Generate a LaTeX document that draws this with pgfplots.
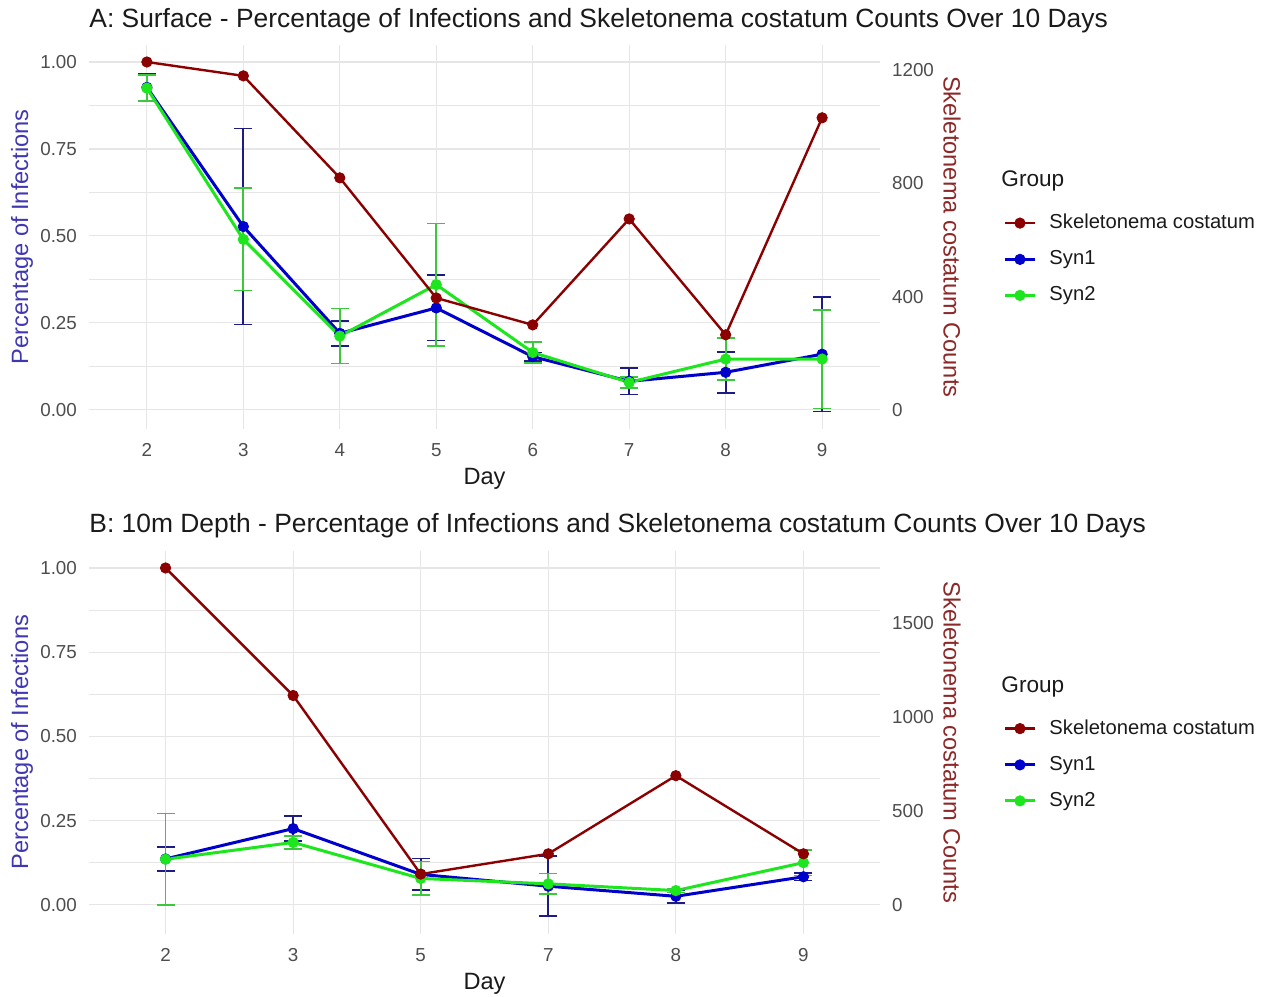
\documentclass[border=0pt]{standalone}
\usepackage{pgfplots}
\usepackage{pgfplotstable}
\pgfplotsset{compat=1.18}
\usepackage{fontspec}
\setmainfont{Liberation Sans}

\definecolor{skel}{HTML}{8B0000}
\definecolor{synA}{HTML}{0000CD}
\definecolor{synAerr}{HTML}{1C1C84}
\definecolor{synB}{HTML}{1EE61E}
\definecolor{synBerr}{HTML}{3CC83C}
\definecolor{leftlab}{HTML}{4038B0}
\definecolor{rightlab}{HTML}{8C2828}
\definecolor{gridc}{HTML}{E6E6E6}
\definecolor{tickc}{HTML}{4D4D4D}
\definecolor{txt}{HTML}{1A1A1A}

% Panel A: Surface
\pgfplotstableread{
day s1    e1    s2    e2    sk
2   0.927 0.040 0.925 0.037 1228
3   0.527 0.282 0.490 0.147 1179
4   0.220 0.036 0.212 0.079 819
5   0.293 0.094 0.360 0.176 395
6   0.153 0.012 0.165 0.030 300
7   0.082 0.038 0.079 0.016 674
8   0.108 0.059 0.146 0.060 265
9   0.160 0.165 0.146 0.142 1031
}\surface

% Panel B: 10 m depth (idx = position of category)
\pgfplotstableread{
idx day s1    e1    s2    e2    sk
0   2   0.136 0.036 0.135 0.136 1793
1   3   0.226 0.037 0.185 0.020 1114
2   5   0.090 0.047 0.078 0.050 163
3   7   0.055 0.089 0.062 0.031 271
4   8   0.025 0.019 0.042 0.006 687
5   9   0.083 0.011 0.125 0.038 271
}\depth

\pgfplotsset{
  base/.style={
    scale only axis, width=395.5pt,
    axis line style={draw=none},
    tick style={draw=none},
    major tick length=0pt, minor tick length=0pt,
    tick label style={font=\fontsize{9.4}{11}\selectfont, text=tickc, inner sep=0pt},
    /pgf/number format/assume math mode=true,
    /pgf/number format/1000 sep={},
    clip=false,
  },
  leftax/.style={
    base,
    ytick={0,0.25,0.5,0.75,1},
    minor ytick={0.125,0.375,0.625,0.875},
    yticklabel style={/pgf/number format/fixed, /pgf/number format/fixed zerofill, /pgf/number format/precision=2, xshift=-5.85pt},
    xticklabel style={yshift=-7pt},
    xmajorgrids, ymajorgrids, yminorgrids,
    major grid style={gridc, line width=0.55pt},
    minor grid style={gridc, line width=0.35pt},
    ylabel={Percentage of Infections},
    ylabel style={at={(axis description cs:-0.0847,0.5)}, anchor=center, text=leftlab, font=\fontsize{11.8}{14}\selectfont, inner sep=0pt},
    xlabel={Day},
    xlabel style={at={(axis description cs:0.5,-0.1444)}, anchor=base, text=txt, font=\fontsize{11.8}{14}\selectfont, inner sep=0pt},
    title style={at={(axis description cs:0,1.044)}, anchor=base west, yshift=-6pt, text=txt, font=\fontsize{13.2}{16}\selectfont, inner sep=0pt},
    legend style={at={(axis description cs:1.148,0.570)}, anchor=north west, draw=none, fill=none,
      font=\fontsize{10.1}{12}\selectfont, text=txt, row sep=9.45pt,
      nodes={inner sep=0pt},
      /tikz/every odd column/.style={column sep=6.5pt}},
    legend cell align=left,
    legend image code/.code={\draw[mark repeat=2,mark phase=2,##1] plot coordinates {(0pt,0pt) (7.5pt,0pt) (15pt,0pt)};},
  },
  rightax/.style={
    base,
    axis y line*=right, axis x line=none,
    yticklabel style={xshift=5.85pt},
    ylabel={Skeletonema costatum Counts},
    ylabel style={at={(axis description cs:1.091,0.5)}, anchor=center, rotate=180, text=rightlab, font=\fontsize{11.8}{14}\selectfont, inner sep=0pt},
  },
  s1style/.style={synA, line width=1.5pt, mark=*, mark size=2.6pt, mark options={solid, fill=synA, draw=synA, line width=0.4pt}},
  s2style/.style={synB, line width=1.5pt, mark=*, mark size=2.6pt, mark options={solid, fill=synB, draw=synB, line width=0.4pt}},
  skstyle/.style={skel, line width=1.2pt, mark=*, mark size=2.6pt, mark options={solid, fill=skel, draw=skel, line width=0.4pt}},
  e1style/.style={error bars/.cd, y dir=both, y explicit,
    error bar style={synAerr, line width=0.85pt},
    error mark options={rotate=90, synAerr, line width=0.85pt, mark size=4.5pt}},
  e2style/.style={error bars/.cd, y dir=both, y explicit,
    error bar style={synBerr, line width=0.85pt},
    error mark options={rotate=90, synBerr, line width=0.85pt, mark size=4.5pt}},
}

\begin{document}
\begin{tikzpicture}
\path[use as bounding box] (0,0) rectangle (633.5pt,498pt);

% ---------------- Panel A ----------------
\begin{axis}[leftax, at={(44.5pt,283.5pt)}, anchor=south west, height=192.2pt,
  xmin=1.4, xmax=9.6, ymin=-0.055, ymax=1.05,
  xtick={2,3,4,5,6,7,8,9},
  title={A: Surface - Percentage of Infections and Skeletonema costatum Counts Over 10 Days}]
\addlegendimage{skstyle}
\addlegendentry{Skeletonema costatum}
\addplot[s1style, e1style] table[x=day, y=s1, y error=e1] {\surface};
\addlegendentry{Syn1}
\addplot[s2style, e2style] table[x=day, y=s2, y error=e2] {\surface};
\addlegendentry{Syn2}
\node[anchor=base west, font=\fontsize{11.3}{14}\selectfont, text=txt, inner sep=0pt] at (axis description cs:1.153,0.630) {Group};
\end{axis}
\begin{axis}[rightax, at={(44.5pt,283.5pt)}, anchor=south west, height=192.2pt,
  xmin=1.4, xmax=9.6, ymin=-67.5, ymax=1289.4,
  ytick={0,400,800,1200}]
\addplot[skstyle] table[x=day, y=sk] {\surface};
\end{axis}

% ---------------- Panel B ----------------
\begin{axis}[leftax, at={(44.5pt,31pt)}, anchor=south west, height=191.75pt,
  xmin=-0.6, xmax=5.6, ymin=-0.087, ymax=1.052,
  xtick={0,1,2,3,4,5}, xticklabels={2,3,5,7,8,9},
  title style={at={(axis description cs:0,1.0464)}},
  title={B: 10m Depth - Percentage of Infections and Skeletonema costatum Counts Over 10 Days}]
\addlegendimage{skstyle}
\addlegendentry{Skeletonema costatum}
\addplot[s1style, e1style] table[x=idx, y=s1, y error=e1] {\depth};
\addlegendentry{Syn1}
\addplot[s2style, e2style] table[x=idx, y=s2, y error=e2] {\depth};
\addlegendentry{Syn2}
\node[anchor=base west, font=\fontsize{11.3}{14}\selectfont, text=txt, inner sep=0pt] at (axis description cs:1.153,0.630) {Group};
\end{axis}
\begin{axis}[rightax, at={(44.5pt,31pt)}, anchor=south west, height=191.75pt,
  xmin=-0.6, xmax=5.6, ymin=-156, ymax=1886,
  ytick={0,500,1000,1500}]
\addplot[skstyle] table[x=idx, y=sk] {\depth};
\end{axis}
\end{tikzpicture}
\end{document}
